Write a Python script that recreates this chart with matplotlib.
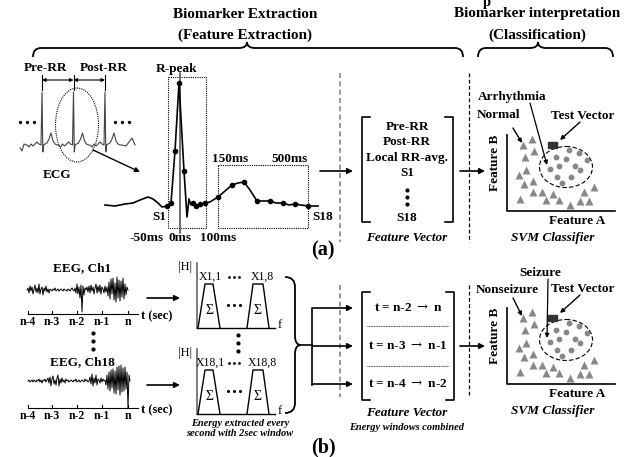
import matplotlib
matplotlib.use('Agg')
import matplotlib.pyplot as plt
from matplotlib.path import Path
from matplotlib.patches import PathPatch, Ellipse, Rectangle

plt.rcParams['font.family'] = ['Liberation Serif', 'DejaVu Serif']
plt.rcParams['mathtext.fontset'] = 'dejavuserif'

# small ECG strip: one beat shape (px offsets from R peak, up positive) and R peak positions
beat_dx = [-15, -13, -11, -9, -7, -5, -3, -1, 0, 0.8, 1.6, 3, 5, 7, 9, 11, 13, 15]
beat_dy = [0, -2, 1, -1, 1, 3, 1, 0, 53, -7, 0, 1, 2, 6, 12, 4, 1, 0]
r_peaks = [42, 73.5, 105]
lead_x, lead_dy = [20, 22, 24, 26], [-3, -6, 1, 0]
tail_x, tail_dy = [122, 126, 129, 132, 135], [0, -1, 3, 7, 0]

# zoomed heartbeat
beat_x = [105, 115, 125, 133, 140, 148, 153, 158, 162, 167, 171, 175, 179, 184, 187, 189,
          191, 193, 196, 200, 205, 210, 218, 225, 232, 238, 244, 250, 257, 263, 270, 276,
          283, 289, 295, 301, 308, 318]
beat_y = [205, 206, 204, 203, 200, 197, 199, 203, 207, 206, 203, 151, 83, 171, 217, 199,
          205, 203, 206, 204, 203, 202, 197, 191, 185, 183, 182, 190, 201, 201, 201, 203,
          203, 205, 204, 205, 206, 206]
sample_x = [167, 171, 175, 179, 184, 193, 196, 200, 205, 218, 232, 244, 257, 270, 283, 295, 308]
sample_y = [206, 203, 151, 83, 171, 203, 206, 204, 203, 197, 185, 182, 201, 201, 203, 204, 206]

# EEG traces (px up from baseline, 1 px steps)
ch1_x0 = 27
ch1 = [0, 2, -3, 4, -1, 3, -4, 1, 5, -2, 2, -3, 6, -4, 1, 3, -5, 2, -1, 4, -2, 1, -3,
       1, 0, -1, 1, 0, 2, -1, 0, 1, -1, 0, 1, 0, -1, 1, 0, 0, -1, 1, 0, -1, 1, 2, 0, -1,
       2, -3, 6, -4, 3, -8, 5, -22, 4, -5, 2, 0,
       3, -2, 4, -3, 5, -1, 3, -4, 2, 6, -3, 4, -2, 5, -4, 3, 1, -3, 4, -2, 3,
       -6, 8, -9, 11, -4, 12, -10, 7, -12, 13, -8, 10, -11, 9, -7, 12, -9, 6, -5, 3, 0]
ch18_x0 = 28
ch18 = [0, 1, -1, 0, 1, -1, 1, 0, -1, 1, 0, 2, -1, 1, -2, 1, 0, 2, -1, 1,
        3, -2, 4, -5, 2, 5, -3, 1, -4, 3, 6, -5, 2, -2, 3, -1, 1, -2, 2, 0,
        1, -1, 0, 1, 0, -1, 1, 0, 2, -1, 0, 1, -1, 0, 1, 0, -1, 2, 0, 1, -1, 0,
        4, -3, 7, -5, 3, -2, 6, -4, 2, 1, -2, 3, -1, 2, 0, 1,
        -4, 6, -8, 9, -10, 11, -7, 12, -12, 10, -13, 14, -9, 15, -14, 16, -11, 13, -10,
        14, -8, 9, -27, 6, 0]
time_ticks = [28, 52, 77, 102, 128]
time_labels = ['n-4', 'n-3', 'n-2', 'n-1', 'n']

# SVM scatter
circ_x = [556, 569, 579, 566, 575, 550, 559, 557, 571, 580, 587, 562]
circ_y = [157, 150, 153, 159, 166, 169, 166, 177, 177, 170, 160, 183]
tri_x = [523, 532, 525, 534, 519, 526, 524, 533, 520, 533, 542, 546, 553, 559, 570, 580, 584, 589, 594]
tri_y = [145, 139, 157, 151, 175, 170, 184, 181, 199, 192, 192, 200, 194, 200, 205, 201, 192, 201, 187]

fv_a = ['Pre-RR', 'Post-RR', 'Local RR-avg.', 'S1']
fv_a_y = [127, 142, 158, 173]
fv_b = ['t = n-2 $\\rightarrow$ n', 't = n-3 $\\rightarrow$ n-1', 't = n-4 $\\rightarrow$ n-2']
fv_b_y = [308, 346, 384]

fig = plt.figure(figsize=(6.32, 4.57), dpi=100)
ax = fig.add_axes([0, 0, 1, 1])
ax.set_xlim(0, 632)
ax.set_ylim(457, 0)
ax.axis('off')


def txt(x, y, s, size=9.5, style='normal', weight='bold', ha='center', va='center', **kw):
    ax.text(x, y, s, fontsize=size, fontstyle=style, fontweight=weight, ha=ha, va=va, **kw)


def dots(xs, ys, ms=2.4):
    ax.plot(xs, ys, 'o', color='k', ms=ms, mec='none')


def arrow(x0, y0, x1, y1, lw=1.2, ms=8, style='-|>'):
    ax.annotate('', xy=(x1, y1), xytext=(x0, y0),
                arrowprops=dict(arrowstyle=style, lw=lw, color='k', mutation_scale=ms,
                                shrinkA=0, shrinkB=0))


def hbrace(x0, x1, xm, y, h=9, tip=6, r=8):
    v = [(x0, y + h), (x0, y), (x0 + r, y), (xm - r, y), (xm, y), (xm, y - tip),
         (xm, y), (xm + r, y), (x1 - r, y), (x1, y), (x1, y + h)]
    c = [Path.MOVETO, Path.CURVE3, Path.CURVE3, Path.LINETO, Path.CURVE3, Path.CURVE3,
         Path.CURVE3, Path.CURVE3, Path.LINETO, Path.CURVE3, Path.CURVE3]
    ax.add_patch(PathPatch(Path(v, c), fill=False, lw=1.3, ec='k'))


# ---- headers
ax.text(487, 6, 'p', fontsize=10.5, fontweight='bold', ha='center', va='baseline', clip_on=True)
txt(245, 14, 'Biomarker Extraction', size=11)
txt(245, 35, '(Feature Extraction)', size=11)
txt(537, 14, 'Biomarker interpretation', size=11)
txt(537, 35, '(Classification)', size=11)
hbrace(33, 463, 247, 48)
hbrace(478, 613, 538, 48)

# ---- (a) small ECG strip
sx = list(lead_x)
sy = [145 - d for d in lead_dy]
for rp in r_peaks:
    sx += [rp + d for d in beat_dx]
    sy += [145 - d for d in beat_dy]
sx += tail_x
sy += [145 - d for d in tail_dy]
ax.plot(sx, sy, color='#444', lw=0.8)
for xr in r_peaks:
    ax.plot([xr, xr], [75, 90], color='k', lw=0.8)
arrow(42, 80, 73.5, 80, lw=0.8, ms=5, style='<|-|>')
arrow(73.5, 80, 105, 80, lw=0.8, ms=5, style='<|-|>')
txt(45, 68, 'Pre-RR')
txt(104, 68, 'Post-RR')
dots([20, 27, 34], [122, 122, 122])
dots([115, 122, 129], [122, 122, 122])
ax.add_patch(Ellipse((77, 125), 43, 74, fill=False, ls=(0, (1, 1)), lw=0.8, ec='k'))
txt(57, 175, 'ECG')
arrow(93, 150, 140, 172, lw=1.0, ms=7)

# ---- (a) zoomed beat
ax.add_patch(Rectangle((168, 77), 38, 151, fill=False, ls=(0, (1, 1)), lw=0.8, ec='k'))
ax.add_patch(Rectangle((218, 165), 90, 63, fill=False, ls=(0, (1, 1)), lw=0.8, ec='k'))
ax.plot([180, 180], [73, 233], color='#555', lw=1.2)
ax.plot(beat_x, beat_y, color='k', lw=1.2)
ax.plot(sample_x, sample_y, 'o', color='k', ms=3)
txt(177, 69, 'R-peak')
txt(230, 159, '150ms')
txt(290, 159, '500ms')
txt(159, 217, 'S1')
txt(312, 217, 'S18', ha='left')
txt(147, 238, '-50ms')
txt(180, 238, '0ms')
txt(218, 238, '100ms')

# ---- separators
for x0, col, lw in [(340, '#888', 1.2), (469, 'k', 0.9)]:
    ax.plot([x0, x0], [73, 242], color=col, lw=lw, ls=(0, (3, 2)))
    ax.plot([x0, x0], [285, 397], color=col, lw=lw, ls=(0, (3, 2)))

# ---- (a) feature vector
arrow(320, 171, 353, 171)
ax.plot([370, 362, 362, 370], [117, 117, 222, 222], color='k', lw=1.2)
ax.plot([445, 453, 453, 445], [117, 117, 222, 222], color='k', lw=1.2)
for s, y in zip(fv_a, fv_a_y):
    txt(407, y, s)
dots([407, 407, 407], [190, 197, 204], ms=3)
txt(407, 218, 'S18')
txt(407, 238, 'Feature Vector', style='italic')
arrow(460, 171, 485, 171)


# ---- SVM panels
def svm(dy, lab_top, lab_left, top_y, left_x, arr_top, arr_left):
    ax.plot([507, 507, 615], [135 + dy, 211 + dy, 211 + dy], color='k', lw=1.2)
    ax.plot(tri_x, [y + dy for y in tri_y], '^', color='#888', ms=5.5, mec='none')
    ax.plot(circ_x, [y + dy for y in circ_y], 'o', color='#888', ms=4.2, mec='none')
    ax.add_patch(Ellipse((566, 167 + dy), 53, 41, fill=False, ls=(0, (4, 2)), lw=0.8, ec='k'))
    ax.add_patch(Rectangle((548, 142 + dy), 9, 6, fc='#333', ec='#333'))
    txt(495, 163 + dy, 'Feature B', rotation=90)
    txt(577, 221 + dy, 'Feature A')
    txt(lab_top[0], lab_top[1], top_y)
    txt(lab_left[0], lab_left[1], left_x)
    txt(583, 116 + dy, 'Test Vector')
    arrow(arr_top[0], arr_top[1], 547, 165 + dy, lw=0.9, ms=6)
    arrow(arr_left[0], arr_left[1], 522, 143 + dy, lw=1.0, ms=6)
    arrow(580, 122 + dy, 560, 140 + dy, lw=1.0, ms=6)
    txt(553, 238 + dy, 'SVM Classifier', style='italic')


svm(0, (512, 97), (498, 115), 'Arrhythmia', 'Normal', (530, 103), (513, 128))
svm(173, (540, 273), (507, 290), 'Seizure', 'Nonseizure', (548, 279), (513, 298))
txt(323, 250, '(a)', size=14.5)
txt(323, 447, '(b)', size=14.5)

# ---- (b) EEG
for name, ny, data, x0, base, axy, ay in [('EEG, Ch1', 268, ch1, ch1_x0, 290, 314, 298),
                                          ('EEG, Ch18', 362, ch18, ch18_x0, 381, 408, 385)]:
    txt(82, ny, name)
    ax.plot([x0 + i for i in range(len(data))], [base - v for v in data], color='k', lw=0.7)
    ax.plot([28, 138], [axy, axy], color='k', lw=0.8)
    for t, lab in zip(time_ticks, time_labels):
        ax.plot([t, t], [axy - 3, axy], color='k', lw=0.8)
        txt(t, axy + 8, lab, size=8.5)
    txt(141, axy + 2, 't (sec)', size=9, ha='left')
    arrow(147, ay, 180, ay)
dots([93, 93, 93], [333, 341, 349], ms=3)

# ---- (b) filter banks
for dy, i in [(0, '1'), (86, '18')]:
    txt(185, 267 + dy, '|H|', weight='normal', size=9)
    ax.plot([197, 197], [263 + dy, 328 + dy], color='#666', lw=1.2)
    ax.plot([197, 275], [328 + dy, 328 + dy], color='k', lw=1.0)
    txt(280, 325 + dy, 'f', weight='normal', size=9)
    for bx in [(198, 205, 213, 220), (247, 253, 263, 269)]:
        ax.plot([bx[0], bx[1], bx[2], bx[3]], [328 + dy, 284 + dy, 284 + dy, 328 + dy], color='k', lw=1.0)
        txt((bx[0] + bx[3]) / 2, 310 + dy, '\u03a3', weight='normal', size=10)
    txt(210, 277 + dy, 'X' + i + ',1', weight='normal', size=8.5)
    txt(262, 277 + dy, 'X' + i + ',8', weight='normal', size=8.5)
    dots([229, 234, 239], [277 + dy] * 3, ms=2)
    dots([228, 234, 240], [305 + dy] * 3, ms=2.2)
dots([238, 238, 238], [335, 343, 351], ms=3)
txt(240, 424, 'Energy extracted every', size=7.5, style='italic')
txt(240, 433, 'second with 2sec window', size=7.5, style='italic')

# brace into feature vector
v = [(285, 277), (295, 277), (295, 287), (295, 336), (295, 345), (301, 345),
     (295, 345), (295, 354), (295, 403), (295, 413), (285, 413)]
c = [Path.MOVETO, Path.CURVE3, Path.CURVE3, Path.LINETO, Path.CURVE3, Path.CURVE3,
     Path.CURVE3, Path.CURVE3, Path.LINETO, Path.CURVE3, Path.CURVE3]
ax.add_patch(PathPatch(Path(v, c), fill=False, lw=1.3, ec='k'))
ax.plot([301, 312], [345, 345], color='k', lw=1.2)
ax.plot([312, 312], [309, 385], color='k', lw=1.2)
for y in fv_b_y:
    arrow(312, y, 353, y)

# ---- (b) feature vector
ax.plot([370, 362, 362, 370], [292, 292, 400, 400], color='k', lw=1.2)
ax.plot([446, 454, 454, 446], [292, 292, 400, 400], color='k', lw=1.2)
for s, y in zip(fv_b, fv_b_y):
    txt(408, y, s, size=9.5)
for y in [326, 366]:
    ax.plot([367, 449], [y, y], color='k', lw=0.6, ls=(0, (1, 1)))
arrow(460, 346, 485, 346)
txt(407, 413, 'Feature Vector', style='italic')
txt(407, 427, 'Energy windows combined', size=7.5, style='italic')

fig.savefig('out.png', dpi=100)
